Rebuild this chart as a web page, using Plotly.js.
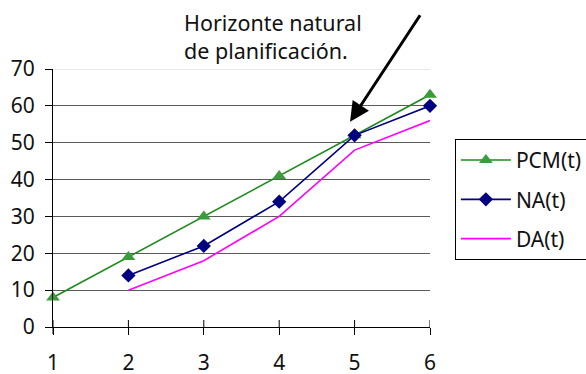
<!DOCTYPE html>
<html>
<head>
<meta charset="utf-8">
<script src="https://cdn.plot.ly/plotly-3.0.1.min.js"></script>
<style>
  html, body { margin: 0; padding: 0; background: #fff; }
  #chart { width: 586px; height: 374px; }
</style>
</head>
<body>
<div id="chart"></div>
<script>
// Periods and series
const periods = [1, 2, 3, 4, 5, 6];
const pcm = [8, 19, 30, 41, 52, 63];
const naPeriods = [2, 3, 4, 5, 6];
const na = [14, 22, 34, 52, 60];
const da = [10, 18, 30, 48, 56];
const yTicks = [0, 10, 20, 30, 40, 50, 60, 70];

const FONT = 'Noto Sans, Open Sans, sans-serif';
const PLOT_H = 258;          // plot area height in px
const TICK = 7 / PLOT_H;     // tick length as a fraction of the plot height

const traces = [
  {
    x: periods, y: pcm, name: 'PCM(t)', legendgroup: 'a', type: 'scatter',
    mode: 'lines+markers', cliponaxis: false,
    line: { color: '#1f8a1f', width: 1.6 },
    marker: { symbol: 'triangle-up', size: 12, color: '#3a9c3a' }
  },
  {
    x: naPeriods, y: na, name: 'NA(t)', legendgroup: 'b', type: 'scatter',
    mode: 'lines+markers', cliponaxis: false,
    line: { color: '#000080', width: 1.6 },
    marker: { symbol: 'diamond', size: 11, color: '#000080' }
  },
  {
    x: naPeriods, y: da, name: 'DA(t)', legendgroup: 'c', type: 'scatter',
    mode: 'lines', cliponaxis: false,
    line: { color: '#ff00ff', width: 1.6 }
  }
];

// x ticks cross the axis line: the upper halves are drawn as short shapes
const crossTicks = periods.map(p => ({
  type: 'line', xref: 'x', yref: 'paper', x0: p, x1: p, y0: 0, y1: TICK,
  line: { color: '#000', width: 1 }, layer: 'above'
}));

const layout = {
  width: 586, height: 374,
  margin: { l: 53, r: 156, t: 69, b: 47, autoexpand: false },
  paper_bgcolor: '#fff', plot_bgcolor: '#fff',
  font: { family: FONT, size: 21, color: '#111' },
  showlegend: true,
  xaxis: {
    range: [1, 6], tickvals: periods, ticktext: periods.map(String),
    showgrid: false, zeroline: false,
    showline: true, linecolor: '#000', linewidth: 1,
    ticks: 'outside', ticklen: 7, tickcolor: '#000', tickwidth: 1,
    ticklabelstandoff: 10,
    tickfont: { family: FONT, size: 21, color: '#111' }
  },
  yaxis: {
    range: [0, 70], tickvals: yTicks, ticktext: yTicks.map(String),
    showgrid: true, gridcolor: '#5a5a5a', gridwidth: 1,
    zeroline: false, showline: true, linecolor: '#000', linewidth: 1,
    ticks: 'outside', ticklen: 7, tickcolor: '#000', tickwidth: 1,
    ticklabelstandoff: 6,
    tickfont: { family: FONT, size: 21, color: '#111' }
  },
  shapes: [
    // lighter top gridline
    { type: 'line', xref: 'x', yref: 'y', x0: 1, x1: 6, y0: 70, y1: 70,
      line: { color: '#cfcfcf', width: 1 }, layer: 'below' },
    // y axis line continues a little below zero
    { type: 'line', xref: 'paper', yref: 'paper', x0: 0, x1: 0, y0: 0, y1: -TICK,
      line: { color: '#000', width: 1 }, layer: 'above' }
  ].concat(crossTicks),
  legend: {
    x: 1.066, y: 0.729, xanchor: 'left', yanchor: 'top',
    bordercolor: '#000', borderwidth: 1, bgcolor: '#fff',
    font: { family: FONT, size: 21, color: '#111' },
    tracegroupgap: 9, itemwidth: 50
  },
  annotations: [
    {
      xref: 'paper', yref: 'paper', x: 0.342, y: 1.243,
      xanchor: 'left', yanchor: 'top', align: 'left', showarrow: false,
      text: 'Horizonte natural<br>de planificación.',
      font: { family: FONT, size: 21.5, color: '#111' }
    },
    {
      xref: 'x', yref: 'y', x: 4.94, y: 55.7, axref: 'pixel', ayref: 'pixel',
      ax: 71, ay: -108, text: '', showarrow: true,
      arrowhead: 2, arrowsize: 1.3, arrowwidth: 3, arrowcolor: '#000'
    }
  ]
};

Plotly.newPlot('chart', traces, layout, { displayModeBar: false, staticPlot: true });
</script>
</body>
</html>
